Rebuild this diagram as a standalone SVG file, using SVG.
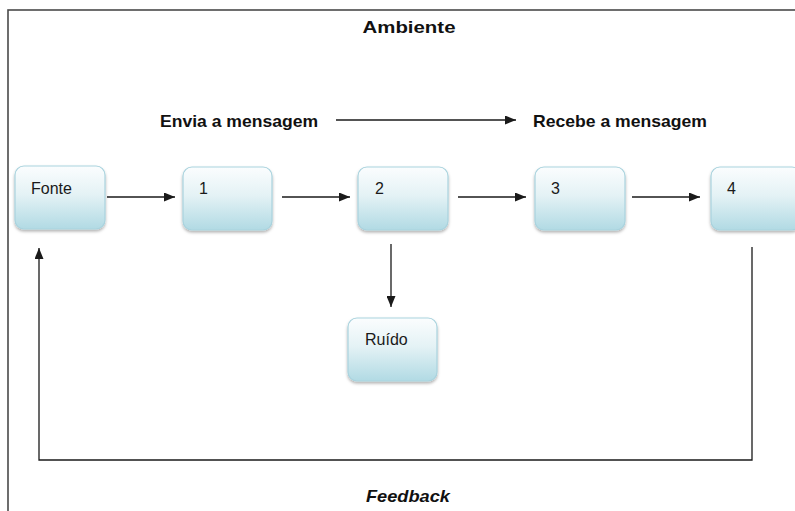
<svg xmlns="http://www.w3.org/2000/svg" width="795" height="511" viewBox="0 0 795 511">
<style>
.node rect{fill:url(#g);stroke:#a9d3de;stroke-width:1.2;filter:url(#sh)}
.lbl{font-family:"Liberation Sans",Arial,sans-serif;font-size:16px;fill:#1a1a1a}
.hdr{font-family:"Liberation Sans",Arial,sans-serif;font-size:17px;font-weight:bold;fill:#111}
.ln{stroke:#1a1a1a;stroke-width:1.3;fill:none}
</style>
<defs>
<linearGradient id="g" x1="0" y1="0" x2="0" y2="1">
<stop offset="0" stop-color="#fbfdfe"/>
<stop offset="0.45" stop-color="#e4f2f5"/>
<stop offset="1" stop-color="#b1dae4"/>
</linearGradient>
<filter id="sh" x="-20%" y="-20%" width="140%" height="150%">
<feDropShadow dx="0" dy="2" stdDeviation="1.6" flood-color="#000" flood-opacity="0.3"/>
</filter>
<marker id="ah" markerWidth="11" markerHeight="9" refX="11" refY="4.5" orient="auto" markerUnits="userSpaceOnUse">
<path d="M0,0 L11,4.5 L0,9 Z" fill="#1a1a1a"/>
</marker>
</defs>
<rect x="0" y="0" width="795" height="511" fill="#fff"/>
<rect x="8" y="10" width="800" height="520" fill="none" stroke="#4a4a4a" stroke-width="1.6"/>
<text class="hdr" x="409" y="33" text-anchor="middle" textLength="93" lengthAdjust="spacingAndGlyphs">Ambiente</text>
<text class="hdr" x="160" y="127" textLength="158" lengthAdjust="spacingAndGlyphs">Envia a mensagem</text>
<text class="hdr" x="533" y="127" textLength="174" lengthAdjust="spacingAndGlyphs">Recebe a mensagem</text>
<text class="hdr" x="366" y="502" font-style="italic" textLength="84" lengthAdjust="spacingAndGlyphs">Feedback</text>
<g id="connectors">
<line class="ln" x1="336" y1="120" x2="516" y2="120" marker-end="url(#ah)"/>
<line class="ln" x1="107" y1="197" x2="175" y2="197" marker-end="url(#ah)"/>
<line class="ln" x1="282" y1="197" x2="350" y2="197" marker-end="url(#ah)"/>
<line class="ln" x1="458" y1="197" x2="526" y2="197" marker-end="url(#ah)"/>
<line class="ln" x1="632" y1="197" x2="700" y2="197" marker-end="url(#ah)"/>
<line class="ln" x1="391" y1="244" x2="391" y2="307" marker-end="url(#ah)"/>
<polyline class="ln" points="752,247 752,460 39,460 39,248" marker-end="url(#ah)" stroke-width="1.6" stroke="#3a3a3a"/>
</g>
<g id="fonte" class="node"><rect x="15" y="166" width="90" height="63" rx="9"/><text class="lbl" x="31" y="194">Fonte</text></g>
<g id="n1" class="node"><rect x="183" y="167" width="89" height="63" rx="9"/><text class="lbl" x="199" y="194">1</text></g>
<g id="n2" class="node"><rect x="358" y="167" width="90" height="63" rx="9"/><text class="lbl" x="375" y="194">2</text></g>
<g id="n3" class="node"><rect x="535" y="167" width="90" height="63" rx="9"/><text class="lbl" x="551" y="194">3</text></g>
<g id="n4" class="node"><rect x="711" y="167" width="90" height="63" rx="9"/><text class="lbl" x="727" y="194">4</text></g>
<g id="ruido" class="node"><rect x="348" y="318" width="89" height="63" rx="9"/><text class="lbl" x="365" y="345">Ruído</text></g>
</svg>
